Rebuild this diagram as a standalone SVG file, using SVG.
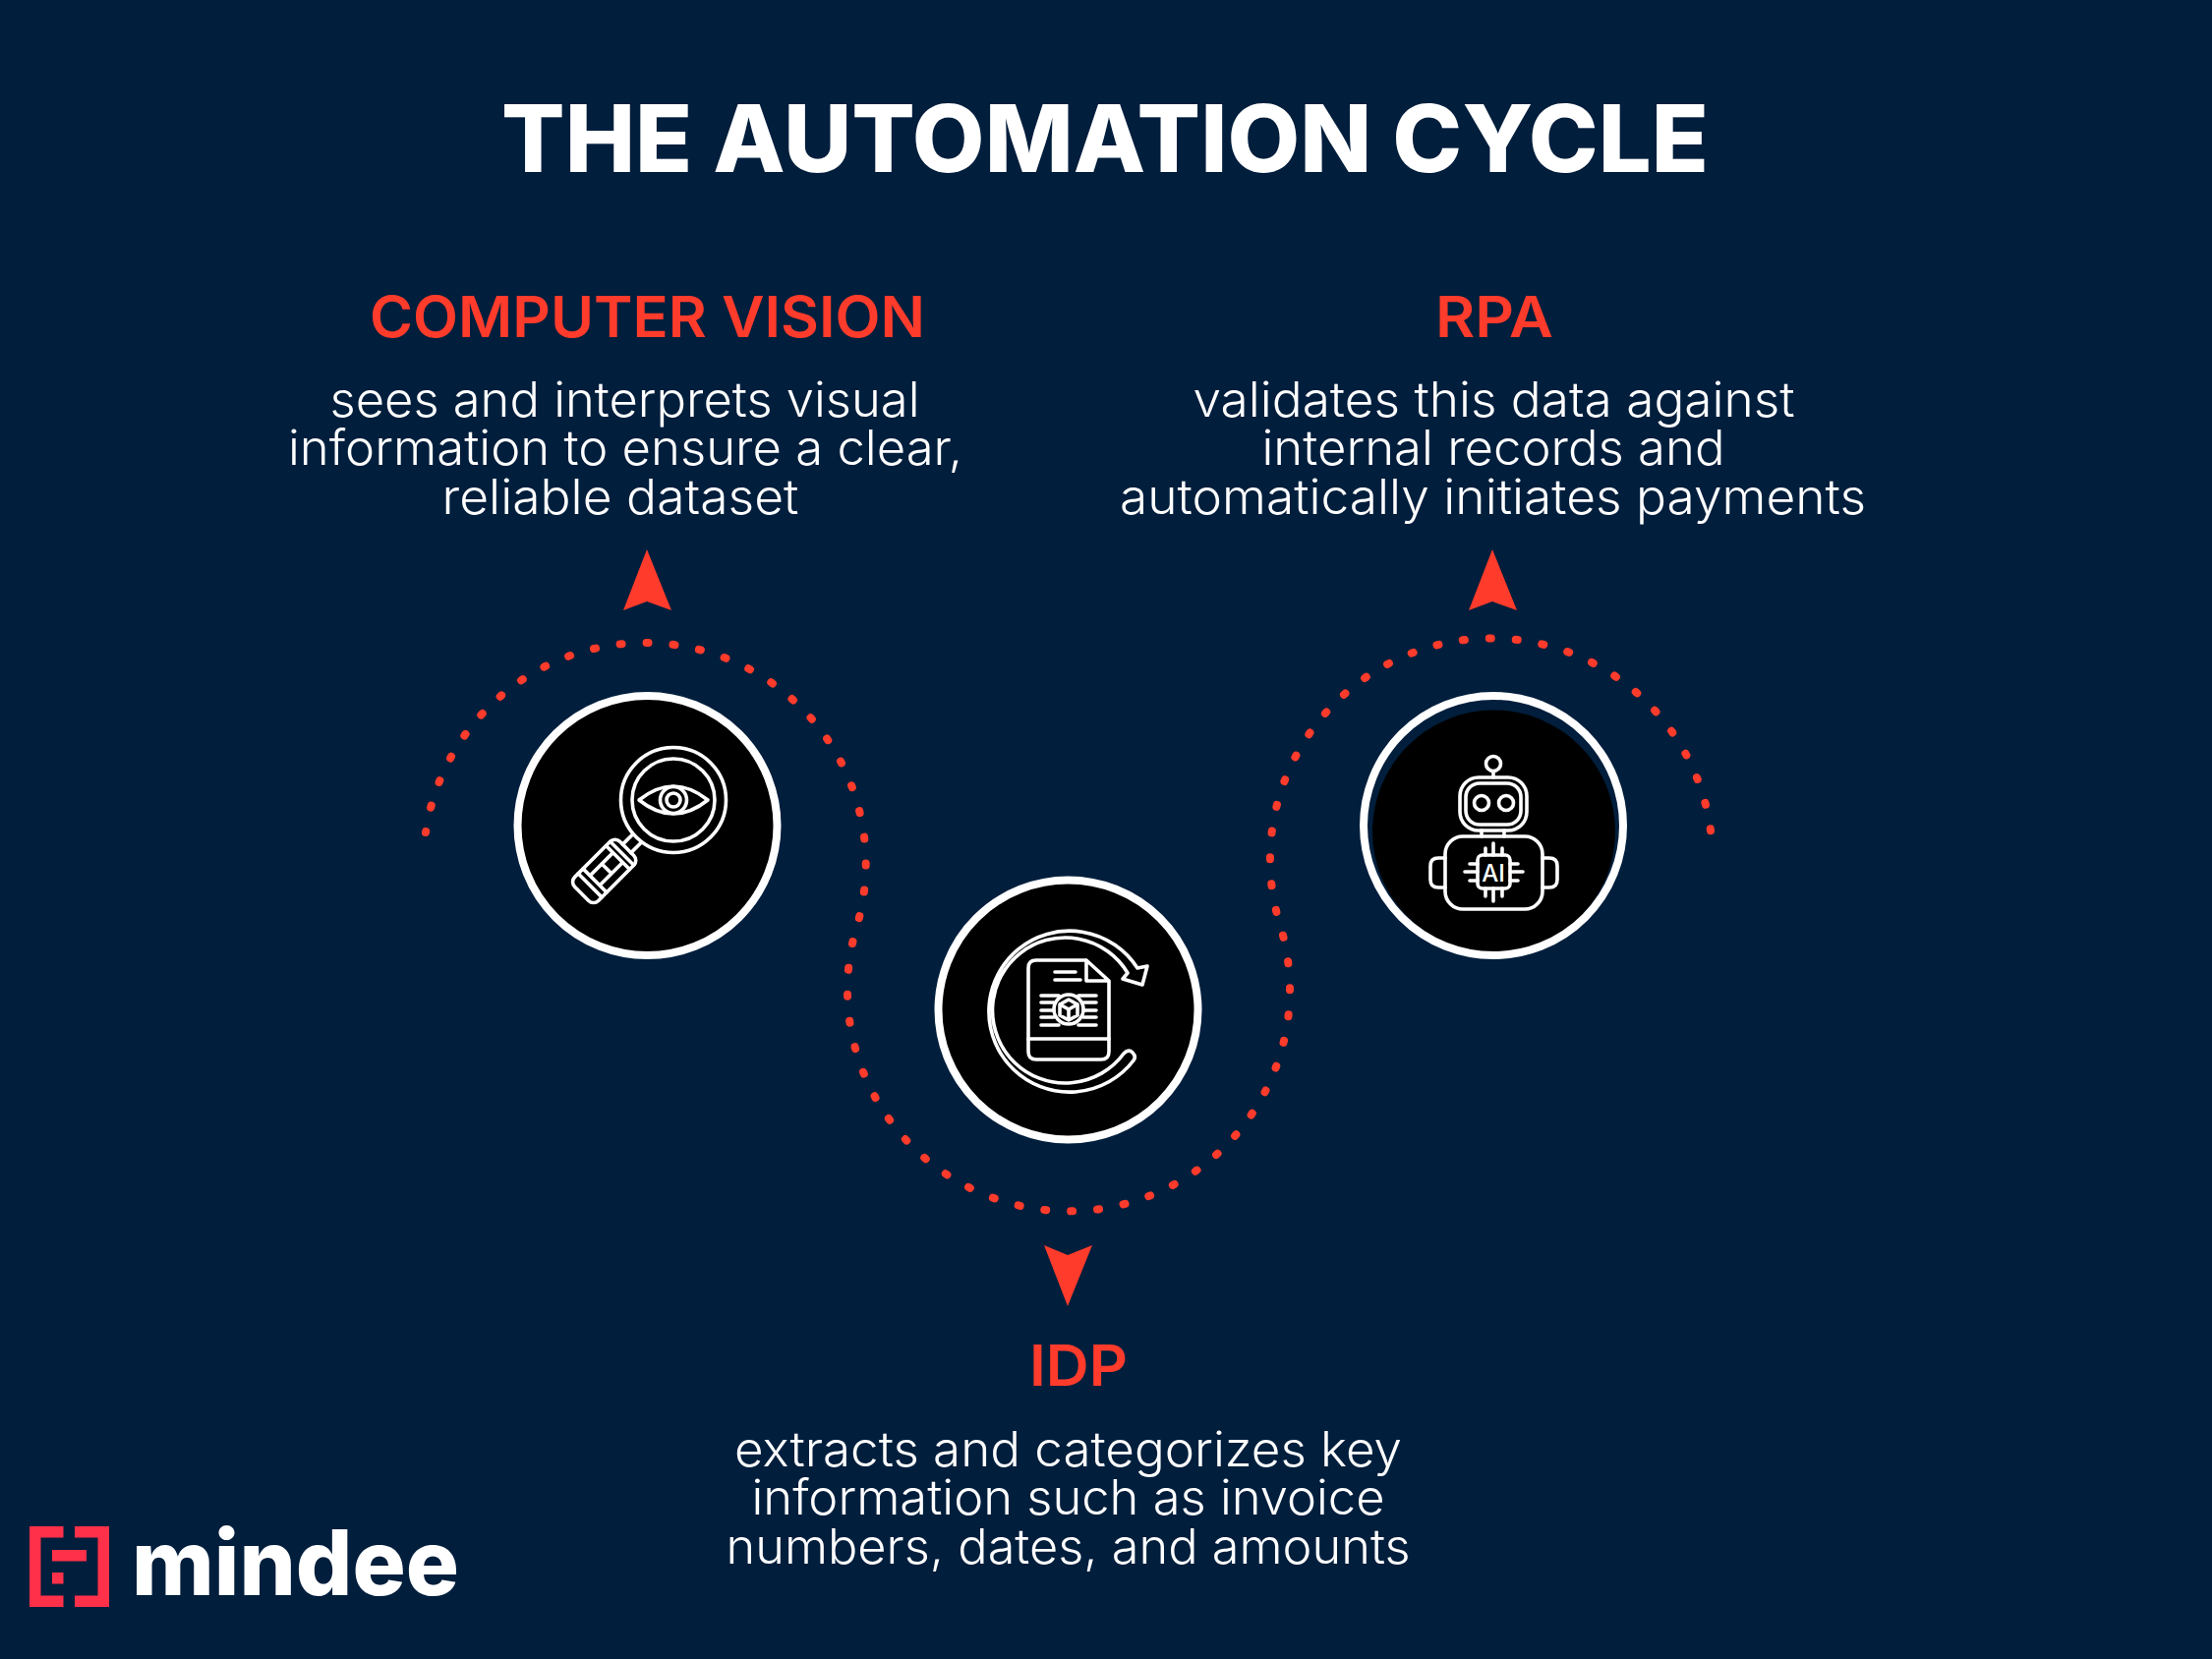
<svg xmlns="http://www.w3.org/2000/svg" width="2250" height="1688" viewBox="0 0 2250 1688">
<style>
.title{font-family:"Inter","Liberation Sans",sans-serif;font-weight:800;font-size:95px;fill:#fff;text-anchor:middle}
.head{font-family:"Inter","Liberation Sans",sans-serif;font-weight:600;font-size:58px;fill:#ff3b2b;text-anchor:middle}
.body{font-family:"Inter","Liberation Sans",sans-serif;font-weight:300;font-size:49px;fill:#fff;text-anchor:middle}
.ring{fill:none;stroke:#fff;stroke-width:8}
.disc{fill:#000}
.ic{fill:none;stroke:#fff;stroke-width:3.6;stroke-linejoin:round;stroke-linecap:round}
.arrow{fill:#ff3b2b}
.logo{fill:#ff3049}
</style>
<rect width="2250" height="1688" fill="#011e3c"/>
<text class="title" x="1124" y="175" textLength="1228" lengthAdjust="spacingAndGlyphs">THE AUTOMATION CYCLE</text>
<g id="connectors">
<path fill="none" stroke="#ff3b2b" stroke-width="8" stroke-linecap="round" stroke-dasharray="2 25" stroke-dashoffset="1" d="M433 847A225 225 0 1 1 872 941A225 225 0 1 0 1302 941A225 225 0 1 1 1741 854"/>
<polygon class="arrow" points="658,559 683,621 658,612 634,621"/>
<polygon class="arrow" points="1086,1329 1111,1267 1086,1277 1062,1267"/>
<polygon class="arrow" points="1518,559 1543,621 1518,612 1494,621"/>
</g>
<g id="node-computer-vision">
<text class="head" x="658.5" y="343" textLength="565" lengthAdjust="spacingAndGlyphs">COMPUTER VISION</text>
<text class="body" x="635.5" y="424" textLength="600" lengthAdjust="spacingAndGlyphs">sees and interprets visual</text>
<text class="body" x="636" y="473" textLength="686" lengthAdjust="spacingAndGlyphs">information to ensure a clear,</text>
<text class="body" x="631" y="523" textLength="363" lengthAdjust="spacingAndGlyphs">reliable dataset</text>
<circle class="disc" cx="658.5" cy="840" r="132"/>
<circle class="ring" cx="658.5" cy="840" r="132"/>
<g class="ic">
<circle cx="685" cy="814" r="53.5"/><circle cx="685" cy="814" r="42"/>
<path d="M650 814Q685 786 720 814Q685 842 650 814Z"/>
<circle cx="685" cy="814" r="13.5"/><circle cx="685" cy="814" r="7"/>
<g transform="translate(615,886) rotate(135)">
<rect x="-32" y="-17" width="65" height="34" rx="7"/>
<path d="M-46 -6H-32M-46 6H-32M-25 -17V17M-19 -17V17M14 -17V17M21 -17V17M-19 -7H14M-19 7H14M-3 -7V7"/>
</g>
</g>
</g>
<g id="node-idp">
<text class="head" x="1097" y="1410" textLength="100" lengthAdjust="spacingAndGlyphs">IDP</text>
<text class="body" x="1086.5" y="1492" textLength="679" lengthAdjust="spacingAndGlyphs">extracts and categorizes key</text>
<text class="body" x="1086.5" y="1541" textLength="644" lengthAdjust="spacingAndGlyphs">information such as invoice</text>
<text class="body" x="1086.5" y="1591" textLength="696" lengthAdjust="spacingAndGlyphs">numbers, dates, and amounts</text>
<circle class="disc" cx="1086.5" cy="1027.5" r="132"/>
<circle class="ring" cx="1086.5" cy="1027.5" r="132"/>
<g class="ic">
<path d="M1157 985L1167 983L1162 1002L1142 996L1147 990A74 74 0 1 0 1143 1072Q1148 1067 1152 1071Q1156 1075 1153 1079A82 82 0 1 1 1157 985Z"/>
<path d="M1105 977H1054Q1046 977 1046 985V1070Q1046 1078 1054 1078H1120Q1128 1078 1128 1070V998L1105 977V998H1128"/>
<path d="M1073 989H1094M1073 997H1099M1046 1057H1128"/>
<path d="M1059 1013H1077M1097 1013H1115M1059 1020H1072M1102 1020H1115M1059 1028H1072M1102 1028H1115M1059 1035H1072M1102 1035H1115M1059 1043H1077M1097 1043H1115"/>
<circle cx="1087" cy="1027" r="15"/>
<path d="M1087 1017L1096 1022V1033L1087 1038L1078 1033V1022ZM1078 1022L1087 1027L1096 1022M1087 1027V1038"/>
</g>
</g>
<g id="node-rpa">
<text class="head" x="1520" y="343" textLength="120" lengthAdjust="spacingAndGlyphs">RPA</text>
<text class="body" x="1519.5" y="424" textLength="612" lengthAdjust="spacingAndGlyphs">validates this data against</text>
<text class="body" x="1519" y="473" textLength="471" lengthAdjust="spacingAndGlyphs">internal records and</text>
<text class="body" x="1518.5" y="523" textLength="759" lengthAdjust="spacingAndGlyphs">automatically initiates payments</text>
<circle cx="1519.5" cy="846" r="123.5" fill="#000"/>
<circle class="ring" cx="1519" cy="840" r="132"/>
<g class="ic">
<circle cx="1519" cy="777" r="7.5"/><path d="M1519 785V791"/>
<rect x="1485" y="791" width="68" height="54" rx="19"/>
<rect x="1491" y="797" width="56" height="42" rx="14"/>
<circle cx="1507" cy="817" r="7.5"/><circle cx="1532" cy="817" r="7.5"/>
<path d="M1507 845V851M1530 845V851"/>
<rect x="1470" y="851" width="99" height="74" rx="18"/>
<path d="M1470 873H1463Q1455 873 1455 881V895Q1455 903 1463 903H1470M1569 873H1576Q1584 873 1584 881V895Q1584 903 1576 903H1569"/>
<rect x="1503" y="870" width="33" height="34" rx="5"/>
<path d="M1511 870V863M1519 870V858M1528 870V863M1511 904V912M1519 904V917M1528 904V912M1503 879H1495M1503 887H1490M1503 896H1495M1536 879H1544M1536 887H1549M1536 896H1544"/>
</g>
<text x="1519" y="897" font-family="Inter,'Liberation Sans',sans-serif" font-size="24" font-weight="500" fill="#fff" text-anchor="middle">AI</text>
</g>
<g id="logo">
<path class="logo" d="M30 1553H64.5V1564.5H41.5V1623.5H64.5V1635H30Z"/>
<path class="logo" d="M76 1553H111V1635H76V1623.5H99.5V1564.5H76Z"/>
<rect class="logo" x="53" y="1577" width="35" height="11.5"/>
<rect class="logo" x="53" y="1600" width="11.5" height="11.5"/>
<text x="134" y="1623" font-family="Inter,'Liberation Sans',sans-serif" font-size="92" font-weight="800" fill="#fff" textLength="333" lengthAdjust="spacingAndGlyphs">mindee</text>
</g>
</svg>
